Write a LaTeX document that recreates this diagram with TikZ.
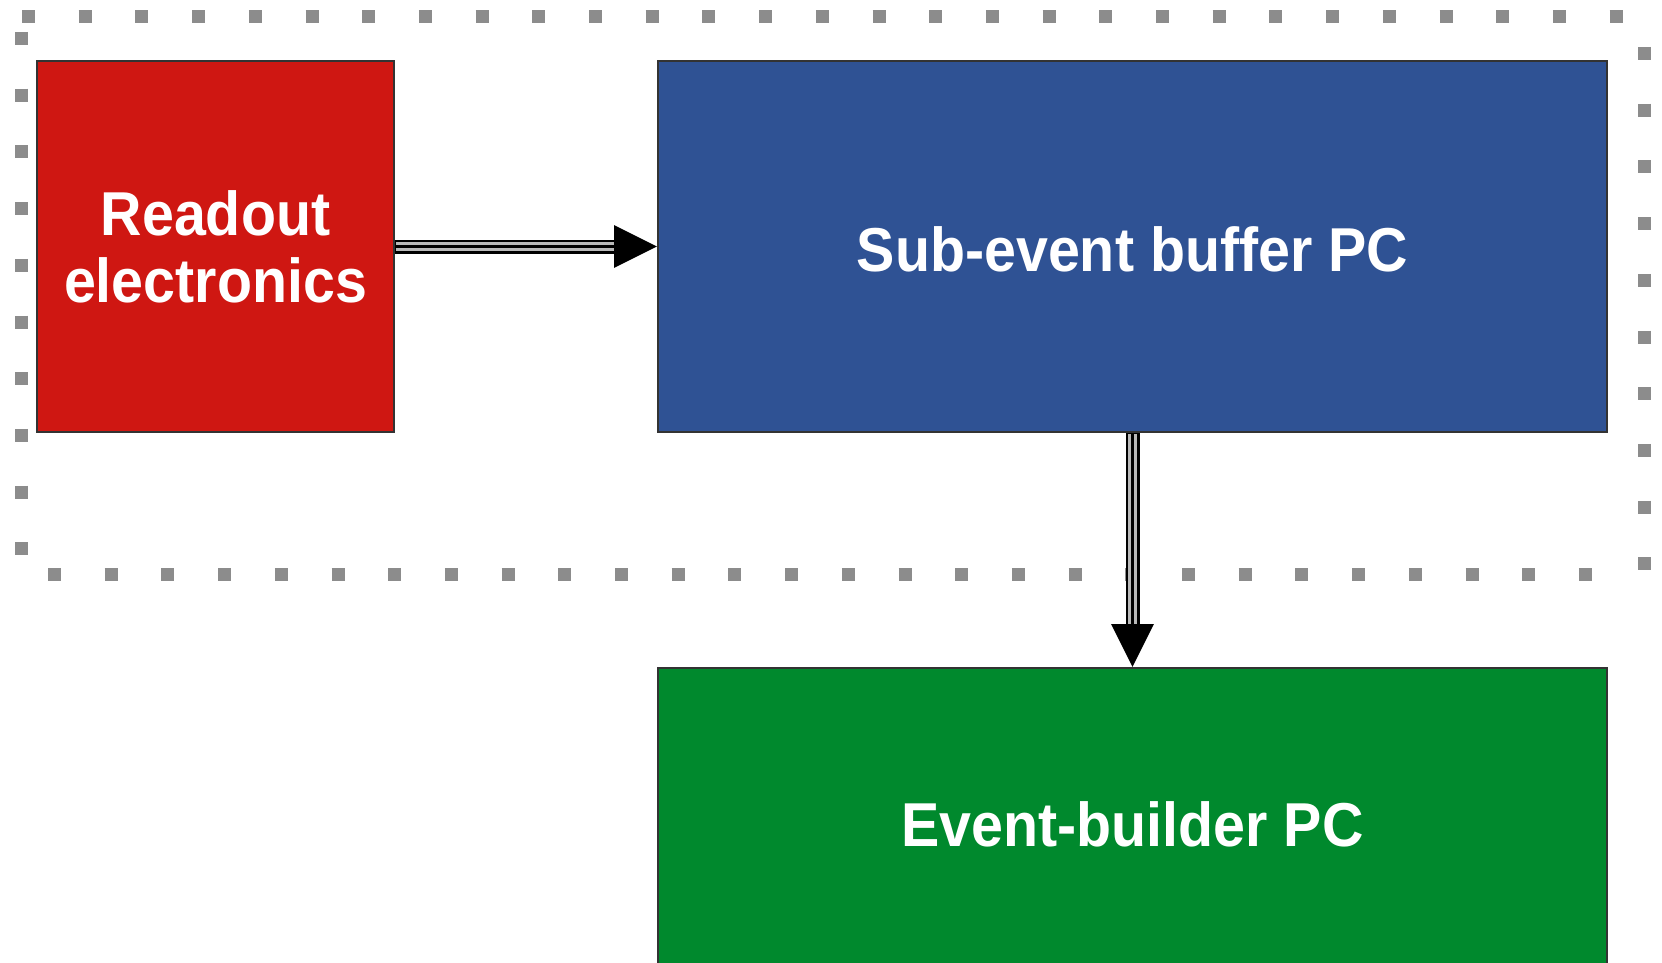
\documentclass[tikz,border=0pt]{standalone}
\usepackage{fontspec}
\newfontfamily\lblfont[FakeStretch=0.925]{Liberation Sans}
\usetikzlibrary{arrows.meta}
\definecolor{rdred}{RGB}{207,23,18}
\definecolor{sbblue}{RGB}{47,82,148}
\definecolor{ebgreen}{RGB}{0,137,45}
\definecolor{dotgray}{RGB}{140,140,140}
\definecolor{linkgray}{RGB}{185,185,185}
\tikzset{
  box/.style={rectangle, draw=black!80, line width=2pt, inner sep=0pt,
    text=white, font=\lblfont\bfseries\fontsize{62}{67}\selectfont, align=center},
  dotline/.style={draw=dotgray, line width=13pt, dash pattern=on 13pt off 43.7pt},
  linkouter/.style={draw=black, line width=14pt},
  linkinner/.style={draw=linkgray, line width=9pt},
  linkcore/.style={draw=black, line width=3.5pt},
  tiphead/.style={-{Triangle[length=43pt,width=42pt]}}
}
\begin{document}
\begin{tikzpicture}[x=1pt,y=-1pt]
\useasboundingbox (0,0) rectangle (1662,963);
\clip (0,0) rectangle (1662,963);
\fill[white] (0,0) rectangle (1662,963);
% dotted frame
\draw[dotline] (22,17) -- (1632,17);
\draw[dotline] (1644,47) -- (1644,580);
\draw[dotline] (48,574) -- (1600,574);
\draw[dotline] (21,32) -- (21,565);
% boxes
\node[box, fill=rdred, minimum width=357pt, minimum height=371pt] (ro) at (215.5,246.5) {Readout\\electronics};
\node[box, fill=sbblue, minimum width=949pt, minimum height=371pt] (sb) at (1132.5,246.5) {\raisebox{-3pt}[\height][\depth]{Sub-event buffer PC}};
\node[box, fill=ebgreen, minimum width=949pt, minimum height=312pt] (eb) at (1132.5,824) {Event-builder PC};
% arrows (link style)
\draw[linkouter, shorten >=40pt] (ro.east) -- (sb.west);
\draw[linkinner, shorten >=40pt, shorten <=1pt] (ro.east) -- (sb.west);
\draw[linkcore, tiphead] (ro.east) -- (sb.west);
\draw[linkouter, shorten >=40pt] (sb.south) -- (eb.north);
\draw[linkinner, shorten >=40pt, shorten <=1pt] (sb.south) -- (eb.north);
\draw[linkcore, tiphead] (sb.south) -- (eb.north);
\end{tikzpicture}
\end{document}
